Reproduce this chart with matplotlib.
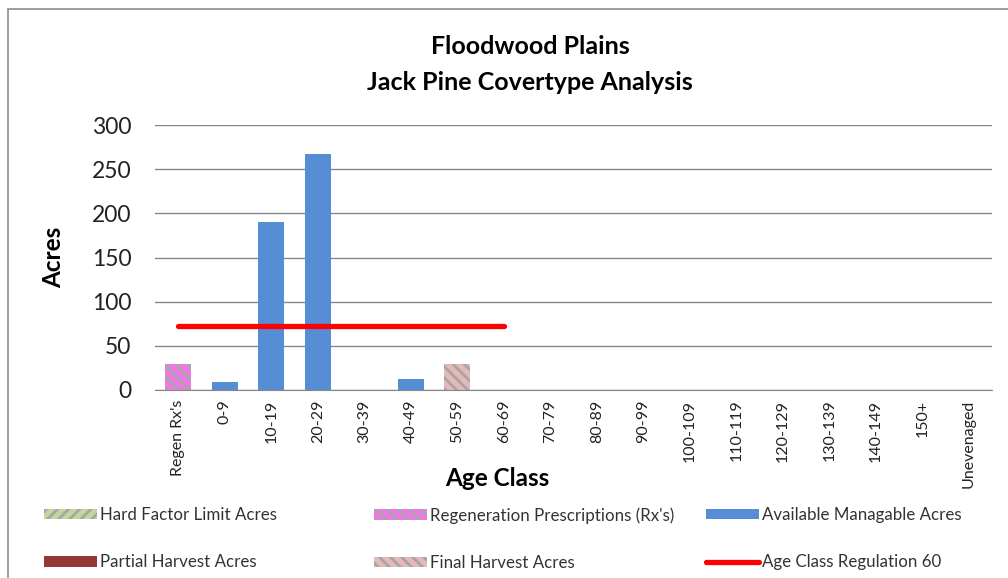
import matplotlib
matplotlib.use('Agg')
import matplotlib.pyplot as plt
import numpy as np
from matplotlib.patches import Rectangle

plt.rcParams['font.family'] = ['Lato', 'DejaVu Sans']
plt.rcParams['hatch.linewidth'] = 2.0

# age classes along the x axis
age_classes = ["Regen Rx's", '0-9', '10-19', '20-29', '30-39', '40-49', '50-59',
               '60-69', '70-79', '80-89', '90-99', '100-109', '110-119',
               '120-129', '130-139', '140-149', '150+', 'Unevenaged']

# stacked series (acres)
hard_factor = [0, 0, 0, 0, 0, 0, 0, 0, 0, 0, 0, 0, 0, 0, 0, 0, 0, 0]
regen_rx = [30, 0, 0, 0, 0, 0, 0, 0, 0, 0, 0, 0, 0, 0, 0, 0, 0, 0]
available = [0, 9, 190, 267, 0, 13, 0, 0, 0, 0, 0, 0, 0, 0, 0, 0, 0, 0]
partial = [0, 0, 0, 0, 0, 0, 0, 0, 0, 0, 0, 0, 0, 0, 0, 0, 0, 0]
final_harvest = [0, 0, 0, 0, 0, 0, 30, 0, 0, 0, 0, 0, 0, 0, 0, 0, 0, 0]

# regulation line (only drawn over the first eight classes)
regulation = [73, 73, 73, 73, 73, 73, 73, 73] + [np.nan] * 10


def main():
    fig = plt.figure(figsize=(10.08, 5.78), dpi=100)
    ax = fig.add_axes([155 / 1008, 1 - 390 / 578, 837 / 1008, 265 / 578])

    x = np.arange(len(age_classes))
    w = 0.56
    bottom = np.zeros(len(x))

    series = [
        (hard_factor, 'Hard Factor Limit Acres', '#C3D69B', '///'),
        (regen_rx, "Regeneration Prescriptions (Rx's)", '#F077E6', '\\\\\\'),
        (available, 'Available Managable Acres', '#558ED5', None),
        (partial, 'Partial Harvest Acres', '#953735', None),
        (final_harvest, 'Final Harvest Acres', '#E6B9B8', '\\\\\\'),
    ]
    handles = {}
    for vals, label, color, hatch in series:
        vals = np.array(vals, dtype=float)
        if hatch:
            b = ax.bar(x, vals, w, bottom=bottom, color=color, hatch=hatch,
                       edgecolor='#A6A6A6', linewidth=0, label=label, zorder=2)
        else:
            b = ax.bar(x, vals, w, bottom=bottom, color=color, linewidth=0,
                       label=label, zorder=2)
        handles[label] = b
        bottom += vals

    line, = ax.plot(x, regulation, color='#FF0000', linewidth=3.8,
                    solid_capstyle='round', label='Age Class Regulation 60', zorder=3)

    ax.set_xlim(-0.5, len(x) - 0.5)
    ax.set_ylim(0, 300)
    ax.set_yticks(range(0, 301, 50))
    ax.yaxis.grid(True, color='#868686', linewidth=1)
    ax.set_axisbelow(True)
    for s in ['top', 'right', 'left']:
        ax.spines[s].set_visible(False)
    ax.spines['bottom'].set_color('#868686')
    ax.tick_params(axis='y', length=0, labelsize=16.5, pad=17, labelcolor='#222222')
    ax.tick_params(axis='x', length=0, labelsize=11.5, pad=7, labelcolor='#222222')
    ax.set_xticks(x)
    ax.set_xticklabels(age_classes, rotation=90)

    ax.set_ylabel('Acres', fontsize=17.5, fontweight='bold', labelpad=19)
    fig.text(497 / 1008, 1 - 478 / 578, 'Age Class', fontsize=17.5,
             fontweight='bold', ha='center', va='center')

    fig.text(530 / 1008, 1 - 46 / 578, 'Floodwood Plains', fontsize=18,
             fontweight='bold', ha='center', va='center')
    fig.text(530 / 1008, 1 - 82 / 578, 'Jack Pine Covertype Analysis', fontsize=18,
             fontweight='bold', ha='center', va='center')

    # legend: three columns, each its own legend so columns line up like Excel
    cols = [
        (44, ['Hard Factor Limit Acres', 'Partial Harvest Acres']),
        (374, ["Regeneration Prescriptions (Rx's)", 'Final Harvest Acres']),
        (706, ['Available Managable Acres', 'Age Class Regulation 60']),
    ]
    for xpos, labels in cols:
        hs = [handles[l] if l in handles else line for l in labels]
        fig.legend(hs, labels, loc='upper left',
                   bbox_to_anchor=(xpos / 1008, 1 - 507 / 578),
                   frameon=False, fontsize=12.2, handlelength=3.1, handleheight=0.6,
                   handletextpad=0.2, labelspacing=1.85, borderpad=0,
                   borderaxespad=0, labelcolor='#333333')

    # outer chart frame
    fig.add_artist(Rectangle((7.5 / 1008, -0.1), 1.2, 0.1 + 1 - 9 / 578,
                             transform=fig.transFigure, fill=False,
                             edgecolor='#8C8C8C', linewidth=1.2))

    fig.savefig('out.png', dpi=100)


if __name__ == '__main__':
    main()
